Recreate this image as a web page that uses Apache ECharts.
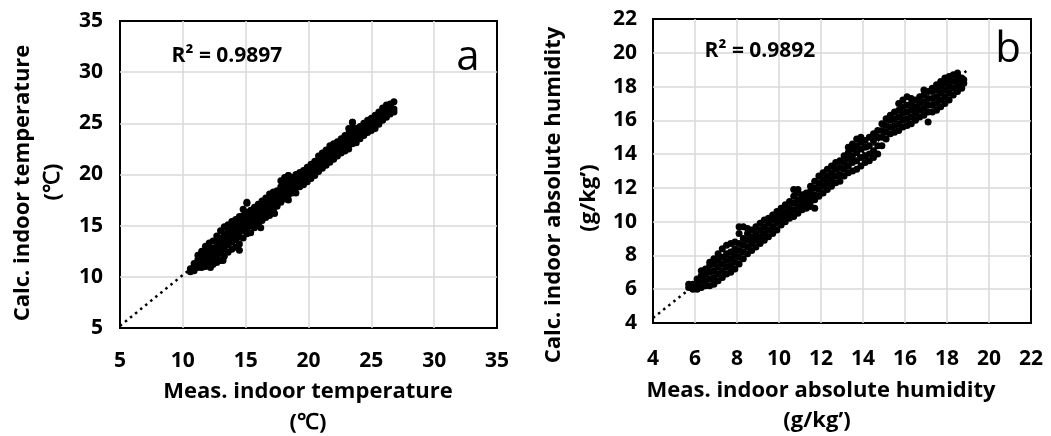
<!DOCTYPE html>
<html>
<head>
<meta charset="utf-8">
<script src="https://cdn.jsdelivr.net/npm/echarts@6/dist/echarts.min.js"></script>
<style>html,body{margin:0;padding:0;background:#fff;}#c{width:1051px;height:436px;}</style>
</head>
<body>
<div id="c"></div>
<script>
// ---- Data ----
// Panel a: indoor temperature, measured (x) vs calculated (y): [x, [y values]]
const tempCloud = [
 [10.6,[10.5,10.8]],
 [10.9,[10.6,11.0,11.3]],
 [11.2,[10.9,11.3,11.7,12.1]],
 [11.5,[10.9,11.5,12.0,12.5]],
 [11.8,[11.0,11.6,12.1,12.6,13.0]],
 [12.1,[11.1,11.7,12.2,12.7,13.3]],
 [12.4,[11.2,11.8,12.3,12.8,13.5]],
 [12.7,[11.4,12.0,12.5,13.0,13.6,14.0]],
 [13.0,[11.6,12.3,12.8,13.3,13.8,14.5]],
 [13.3,[12.0,12.7,13.2,13.7,14.2,14.9]],
 [13.6,[12.4,13.1,13.6,14.1,14.6,15.1]],
 [13.9,[12.7,13.4,13.9,14.4,14.9,15.4]],
 [14.2,[12.9,13.6,14.1,14.6,15.1,15.6]],
 [14.5,[13.2,13.9,14.4,14.9,15.4,15.9]],
 [14.8,[13.8,14.5,15.0,15.5,16.0,16.6]],
 [15.1,[14.2,14.8,15.3,15.8,16.3,17.2]],
 [15.4,[14.3,15.0,15.5,16.0,16.5]],
 [15.7,[14.8,15.3,15.8,16.3,16.8]],
 [16.0,[15.2,15.7,16.2,16.7,17.1]],
 [16.3,[15.5,16.0,16.5,17.0,17.4]],
 [16.6,[15.8,16.3,16.8,17.3,17.7]],
 [16.9,[16.0,16.6,17.1,17.6,18.1]],
 [17.2,[16.5,17.0,17.5,18.0,18.3]],
 [17.5,[16.9,17.4,17.9,18.4]],
 [17.8,[17.3,17.8,18.3,18.8,19.4]],
 [18.1,[17.6,18.1,18.6,19.1,19.7]],
 [18.4,[17.5,18.0,18.5,19.0,19.5,19.9]],
 [18.7,[18.2,18.7,19.2,19.7]],
 [19.0,[18.2,18.7,19.2,19.7,20.0]],
 [19.3,[18.8,19.3,19.8,20.2]],
 [19.6,[19.0,19.5,20.0,20.4]],
 [19.9,[19.3,19.8,20.3,20.7]],
 [20.2,[19.6,20.1,20.6,21.0]],
 [20.5,[19.9,20.4,20.9,21.3]],
 [20.8,[20.3,20.8,21.3,21.8]],
 [21.1,[20.6,21.1,21.6,22.1]],
 [21.4,[20.9,21.4,21.9,22.4]],
 [21.7,[21.2,21.7,22.2,22.8]],
 [22.0,[21.5,22.0,22.5,23.0]],
 [22.3,[21.8,22.3,22.8,23.2]],
 [22.6,[22.1,22.6,23.1,23.5]],
 [22.9,[22.3,22.8,23.3,23.8]],
 [23.2,[22.5,23.0,23.5,24.0,24.5]],
 [23.5,[23.0,23.5,24.0,24.6,25.1]],
 [23.8,[23.1,23.6,24.1,24.5]],
 [24.1,[23.5,23.9,24.3,24.7]],
 [24.4,[23.8,24.2,24.6,25.0]],
 [24.7,[24.1,24.5,24.9,25.3]],
 [25.0,[24.3,24.7,25.1,25.5]],
 [25.3,[24.5,24.9,25.3,25.8]],
 [25.6,[24.9,25.3,25.7,26.1]],
 [25.9,[25.3,25.7,26.1,26.5]],
 [26.2,[25.6,26.0,26.4,26.8]],
 [26.5,[25.9,26.2,26.6,26.9]],
 [26.8,[26.1,26.4,27.1]]
];
const tempOutliers = [[14.5,12.6],[16.2,14.8],[17.3,16.2],[15.1,17.3],[18.4,19.9],[23.5,25.1],[12.2,10.9],[13.2,11.6]];
const tempTrend = [[5,5.2],[27,27.1]];
const tempTicks = [5,10,15,20,25,30,35];

// Panel b: indoor absolute humidity, measured (x) vs calculated (y)
const humidCloud = [
 [5.7,[6.1,6.3]],
 [5.9,[6.0,6.3]],
 [6.1,[6.0,6.3,6.6]],
 [6.3,[6.1,6.5,6.8,7.1]],
 [6.5,[6.2,6.5,6.9,7.2]],
 [6.7,[6.2,6.6,7.0,7.4,7.6]],
 [6.9,[6.3,6.7,7.1,7.5,7.8]],
 [7.1,[6.5,6.9,7.3,7.7,8.1]],
 [7.3,[6.7,7.1,7.5,7.9,8.4]],
 [7.5,[6.9,7.3,7.7,8.1,8.6]],
 [7.7,[7.0,7.4,7.8,8.2,8.7]],
 [7.9,[7.2,7.6,8.0,8.4,8.8]],
 [8.1,[7.5,7.9,8.3,8.7,9.3,9.7]],
 [8.3,[7.8,8.2,8.6,9.0,9.7]],
 [8.5,[8.1,8.5,8.9,9.3,9.6]],
 [8.7,[8.3,8.7,9.1,9.5]],
 [8.9,[8.5,8.9,9.3,9.7]],
 [9.1,[8.7,9.1,9.5,9.9]],
 [9.3,[8.9,9.3,9.7,10.1]],
 [9.5,[9.1,9.5,9.9,10.2]],
 [9.7,[9.3,9.7,10.1,10.4]],
 [9.9,[9.5,9.9,10.3,10.6]],
 [10.1,[9.8,10.1,10.5,10.8]],
 [10.3,[10.0,10.3,10.6,11.0]],
 [10.5,[10.2,10.5,10.8,11.2]],
 [10.7,[10.3,10.7,11.1,11.5,11.9]],
 [10.9,[10.5,10.9,11.3,11.7,11.9]],
 [11.1,[10.7,11.0,11.3,11.6]],
 [11.3,[10.8,11.1,11.4,11.7]],
 [11.5,[10.9,11.2,11.5,11.8,12.1]],
 [11.7,[10.8,11.3,11.6,12.0,12.4]],
 [11.9,[11.5,11.9,12.3,12.7]],
 [12.1,[11.7,12.1,12.5,12.9]],
 [12.3,[11.9,12.3,12.7,13.1]],
 [12.5,[12.1,12.5,12.9,13.3]],
 [12.7,[12.3,12.7,13.1,13.5]],
 [12.9,[12.4,12.8,13.2,13.6]],
 [13.1,[12.7,13.1,13.5,13.9]],
 [13.3,[12.9,13.3,13.7,14.1,14.4]],
 [13.5,[13.0,13.5,13.9,14.3,14.6]],
 [13.7,[13.1,13.6,14.1,14.5,14.9]],
 [13.9,[13.3,13.8,14.3,14.7,15.0]],
 [14.1,[13.5,13.9,14.4,14.8]],
 [14.3,[13.6,14.0,14.5,15.0]],
 [14.5,[13.8,14.2,14.8,15.2]],
 [14.7,[14.0,14.5,15.0,15.4]],
 [14.9,[14.5,15.0,15.4,15.8]],
 [15.1,[14.9,15.3,15.7,16.1]],
 [15.3,[15.2,15.6,16.0,16.3]],
 [15.5,[15.3,15.7,16.1,16.5]],
 [15.7,[15.4,15.8,16.2,16.6,17.0]],
 [15.9,[15.6,16.0,16.4,16.8,17.2]],
 [16.1,[15.7,16.1,16.5,16.9,17.4]],
 [16.3,[15.8,16.2,16.6,17.0,17.3]],
 [16.5,[16.0,16.4,16.8,17.2]],
 [16.7,[16.2,16.6,17.0,17.4]],
 [16.9,[16.3,16.7,17.1,17.5,17.8]],
 [17.1,[15.9,16.5,16.9,17.3,17.7]],
 [17.3,[16.5,16.9,17.3,17.7,17.9]],
 [17.5,[16.6,17.0,17.4,17.8,18.1]],
 [17.7,[16.8,17.2,17.6,18.0,18.3]],
 [17.9,[17.0,17.4,17.8,18.2,18.5]],
 [18.1,[17.2,17.6,18.0,18.4,18.6]],
 [18.3,[17.5,17.9,18.3,18.7]],
 [18.5,[17.7,18.0,18.3,18.6,18.8]],
 [18.7,[17.9,18.2,18.5]],
 [18.8,[18.2,18.4]]
];
const humidTrend = [[4,4.3],[19,19.0]];
const humidTicks = [4,6,8,10,12,14,16,18,20,22];

// ---- Build ----
function expand(cloud, extra) {
  const out = [];
  cloud.forEach(function (c) { c[1].forEach(function (y) { out.push([c[0], y]); }); });
  (extra || []).forEach(function (p) { out.push(p); });
  return out;
}
const FONT = "'Open Sans', 'Liberation Sans', sans-serif";
const axisLbl = { color: '#000', fontSize: 21, fontWeight: 'bold', fontFamily: FONT };
function ax(idx, ticks, margin) {
  return {
    type: 'value', gridIndex: idx, min: ticks[0], max: ticks[ticks.length - 1],
    interval: ticks[1] - ticks[0],
    axisLine: { show: false }, axisTick: { show: false },
    axisLabel: Object.assign({ margin: margin }, axisLbl),
    splitLine: { show: true, showMinLine: false, showMaxLine: false, lineStyle: { color: '#d9d9d9', width: 1.5 } }
  };
}
function txt(x, y, text, opt) {
  opt = opt || {};
  return {
    type: 'text', x: x, y: y, rotation: opt.rot || 0, z: 10,
    style: {
      text: text, fill: '#000', fontSize: opt.size || 22,
      fontWeight: opt.weight || 'bold', fontFamily: FONT,
      align: 'center', verticalAlign: 'middle'
    }
  };
}

const chart = echarts.init(document.getElementById('c'), null, { renderer: 'canvas' });
chart.setOption({
  animation: false,
  backgroundColor: '#fff',
  grid: [
    { left: 120, top: 21, width: 377, height: 307, show: true, borderColor: '#000', borderWidth: 2, backgroundColor: 'transparent' },
    { left: 653, top: 19, width: 378, height: 304, show: true, borderColor: '#000', borderWidth: 2, backgroundColor: 'transparent' }
  ],
  xAxis: [ax(0, tempTicks, 23), ax(1, humidTicks, 26)],
  yAxis: [ax(0, tempTicks, 17), ax(1, humidTicks, 16)],
  series: [
    { type: 'line', xAxisIndex: 0, yAxisIndex: 0, data: tempTrend, symbol: 'none', z: 1,
      lineStyle: { color: '#000', width: 2.5, type: [2.5, 4] } },
    { type: 'scatter', xAxisIndex: 0, yAxisIndex: 0, data: expand(tempCloud, tempOutliers), symbol: 'circle', symbolSize: 7, z: 2,
      itemStyle: { color: '#000', opacity: 1 } },
    { type: 'line', xAxisIndex: 1, yAxisIndex: 1, data: humidTrend, symbol: 'none', z: 1,
      lineStyle: { color: '#000', width: 2.5, type: [2.5, 4] } },
    { type: 'scatter', xAxisIndex: 1, yAxisIndex: 1, data: expand(humidCloud), symbol: 'circle', symbolSize: 7, z: 2,
      itemStyle: { color: '#000', opacity: 1 } }
  ],
  graphic: [
    txt(308, 392, 'Meas. indoor temperature'),
    txt(308, 423, '(\u2103)'),
    txt(23, 183, 'Calc. indoor temperature', { rot: Math.PI / 2 }),
    txt(53, 182, '(\u2103)', { rot: Math.PI / 2 }),
    txt(227, 56, 'R\u00b2 = 0.9897', { size: 21 }),
    txt(468, 58, 'a', { size: 42, weight: 'normal' }),
    txt(821, 391, 'Meas. indoor absolute humidity'),
    txt(817, 421, '(g/kg\u2019)'),
    txt(554, 195, 'Calc. indoor absolute humidity', { rot: Math.PI / 2 }),
    txt(589, 198, '(g/kg\u2019)', { rot: Math.PI / 2 }),
    txt(760, 51, 'R\u00b2 = 0.9892', { size: 21 }),
    txt(1008, 50, 'b', { size: 42, weight: 'normal' })
  ]
});
</script>
</body>
</html>
